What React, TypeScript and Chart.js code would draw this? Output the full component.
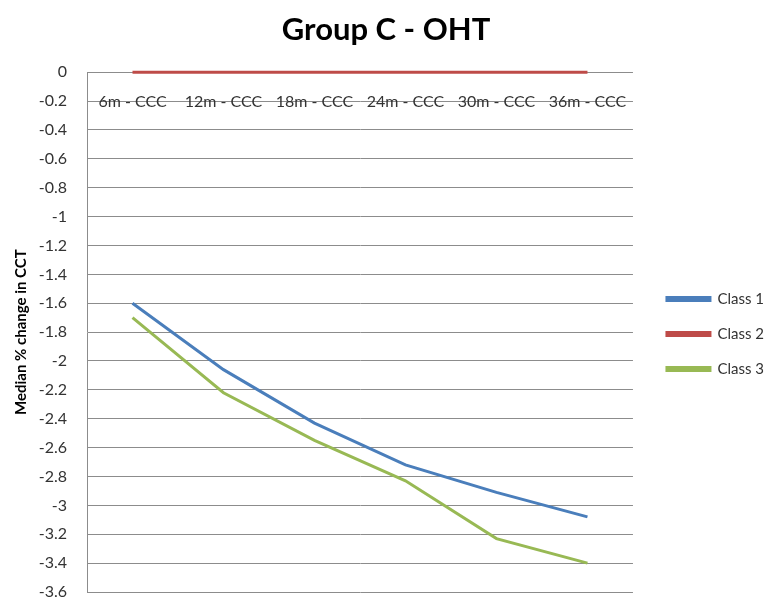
import React, { useEffect, useRef } from 'react';
import { Chart, registerables } from 'chart.js';

Chart.register(...registerables);

const categories = ['6m - CCC', '12m - CCC', '18m - CCC', '24m - CCC', '30m - CCC', '36m - CCC'];
const class1 = [-1.6, -2.06, -2.43, -2.72, -2.91, -3.08];
const class2 = [0, 0, 0, 0, 0, 0];
const class3 = [-1.7, -2.22, -2.55, -2.83, -3.23, -3.4];
const seriesNames = ['Class 1', 'Class 2', 'Class 3'];
const yMin = -3.6;
const yMax = 0;
const yStep = 0.2;

const FONT = 'Lato, "Open Sans", sans-serif';

const shiftLegend = {
  id: 'shiftLegend',
  afterLayout(chart: any) {
    const l = chart.legend;
    if (l) {
      l.left += 14;
      l.right += 14;
      l.top += 38;
      l.bottom += 38;
    }
  },
};

export default function App() {
  const ref = useRef<HTMLCanvasElement | null>(null);
  useEffect(() => {
    if (!ref.current) return;
    const chart = new Chart(ref.current, {
      type: 'line',
      data: {
        labels: categories,
        datasets: [
          { label: seriesNames[0], data: class1, borderColor: '#4A7EBB', backgroundColor: '#4A7EBB', borderWidth: 3, pointRadius: 0, tension: 0, clip: false },
          { label: seriesNames[1], data: class2, borderColor: '#BE4B48', backgroundColor: '#BE4B48', borderWidth: 3, pointRadius: 0, tension: 0, clip: false },
          { label: seriesNames[2], data: class3, borderColor: '#98B954', backgroundColor: '#98B954', borderWidth: 3, pointRadius: 0, tension: 0, clip: false },
        ],
      },
      options: {
        animation: false,
        responsive: false,
        layout: { padding: { left: 12, right: 7, top: 0, bottom: 8 } },
        plugins: {
          title: {
            display: true,
            text: 'Group C - OHT',
            color: '#000',
            font: { family: FONT, size: 31, weight: 'bold' },
            padding: { top: 11, bottom: 24 },
          },
          legend: {
            position: 'right',
            labels: {
              boxWidth: 43,
              boxHeight: 3,
              padding: 20,
              color: '#333',
              font: { family: FONT, size: 15 },
            },
          },
          tooltip: { enabled: false },
        },
        scales: {
          x: {
            type: 'category',
            offset: true,
            position: { y: 0 } as any,
            grid: { display: false },
            border: { display: false },
            ticks: {
              color: '#333',
              font: { family: FONT, size: 16 },
              padding: 12,
              maxRotation: 0,
              autoSkip: false,
            },
            afterFit: (s: any) => {
              s.height = 0;
              s.paddingLeft = 0;
              s.paddingRight = 0;
              s.paddingTop = 0;
              s.paddingBottom = 0;
            },
          },
          y: {
            min: yMin,
            max: yMax,
            grid: { color: '#8c8c8c', lineWidth: 1, drawTicks: false },
            border: { display: true, color: '#8c8c8c' },
            ticks: {
              stepSize: yStep,
              color: '#333',
              font: { family: FONT, size: 16 },
              padding: 20,
              callback: (v: any) => String(Math.round(Number(v) * 10) / 10),
            },
            title: {
              display: true,
              text: 'Median % change in CCT',
              color: '#000',
              font: { family: FONT, size: 15, weight: 'bold' },
              padding: { top: 0, bottom: 6 },
            },
            afterFit: (s: any) => {
              s.width = 75;
              s.paddingTop = 0;
              s.paddingBottom = 8;
            },
          },
        },
      },
      plugins: [shiftLegend],
    });
    return () => chart.destroy();
  }, []);
  return (
    <div style={{ position: 'fixed', left: 0, top: 0, width: 767, height: 600, background: '#fff' }}>
      <canvas ref={ref} width={767} height={600} style={{ width: 767, height: 600 }} />
    </div>
  );
}
